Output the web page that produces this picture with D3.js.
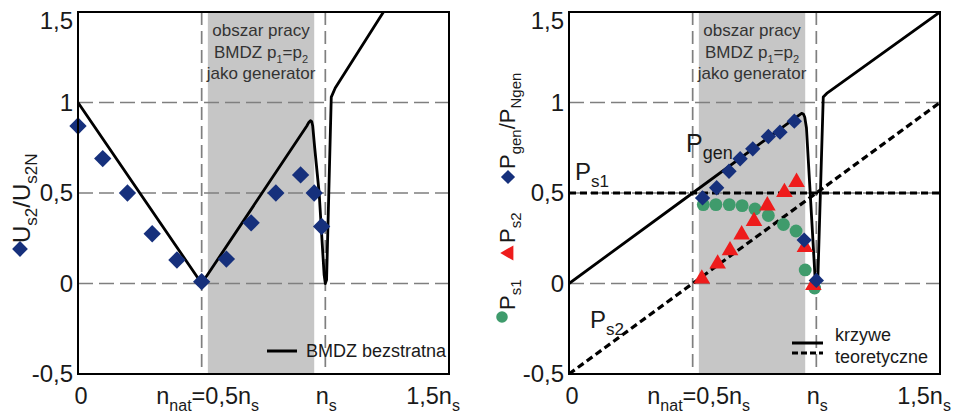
<!DOCTYPE html>
<html>
<head>
<meta charset="utf-8">
<script src="https://cdn.jsdelivr.net/npm/d3@7"></script>
<style>
body { margin: 0; background: #fff; }
svg { display: block; font-family: Arial, "Liberation Sans", sans-serif; }
</style>
</head>
<body>
<svg id="chart" width="955" height="414"></svg>
<script>
// speed axis is n / n_s, values are per-unit

// left panel: U_s2 / U_s2N, measured
var uN   = [0, 0.1, 0.2, 0.3, 0.4, 0.5, 0.6, 0.7, 0.8, 0.9, 0.955, 0.985];
var uVal = [0.87, 0.69, 0.5, 0.275, 0.13, 0.01, 0.135, 0.335, 0.5, 0.6, 0.5, 0.315];
// left panel: lossless model (BMDZ bezstratna)
var uTheoryN   = [0, 0.5, 0.925, 0.933, 0.94, 0.945, 0.949, 0.957, 0.975, 0.995, 1.0, 1.005, 1.024, 1.04, 1.235];
var uTheoryVal = [1, 0, 0.87, 0.89, 0.9, 0.895, 0.87, 0.75, 0.5, 0.05, 0, 0.02, 1.03, 1.08, 1.5];

// right panel: measured powers
var genN   = [0.54, 0.597, 0.647, 0.692, 0.743, 0.806, 0.853, 0.911, 0.951, 1.0];
var genVal = [0.473, 0.529, 0.62, 0.689, 0.744, 0.812, 0.836, 0.897, 0.24, 0.017];
var s1N    = [0.543, 0.594, 0.648, 0.70, 0.752, 0.806, 0.867, 0.918, 0.955, 0.993];
var s1Val  = [0.436, 0.436, 0.436, 0.43, 0.412, 0.376, 0.326, 0.29, 0.075, -0.025];
var s2N    = [0.537, 0.601, 0.651, 0.698, 0.748, 0.802, 0.871, 0.92, 0.954, 0.988];
var s2Val  = [0.026, 0.109, 0.182, 0.27, 0.344, 0.43, 0.504, 0.56, 0.2, -0.01];
// right panel: theoretical curves
var genTheoryN   = [0, 0.5, 0.925, 0.935, 0.942, 0.948, 0.953, 0.96, 0.995, 1.0, 1.006, 1.028, 1.042, 1.5];
var genTheoryVal = [0, 0.5, 0.925, 0.935, 0.94, 0.935, 0.92, 0.86, 0.03, 0, 0.02, 1.03, 1.05, 1.5];
var s1TheoryN   = [0, 1.5];
var s1TheoryVal = [0.5, 0.5];
var s2TheoryN   = [0, 1.5];
var s2TheoryVal = [-0.5, 1.0];

var yTicks = [-0.5, 0, 0.5, 1, 1.5];
var yTickLabels = ['-0,5', '0', '0,5', '1', '1,5'];
var xTicks = [0, 0.5, 1, 1.5];
var xTickLabels = [
  [['0']],
  [['n'], ['nat', 1], ['=0,5n'], ['s', 1]],
  [['n'], ['s', 1]],
  [['1,5n'], ['s', 1]]
];
var gridY = [0, 0.5, 1];
var gridX = [0.5, 1];
var band = [0.525, 0.955];
var bandText = [
  [['obszar pracy']],
  [['BMDZ  p'], ['1', 1], ['=p'], ['2', 1]],
  [['jako generator']]
];

var navy = '#16307c', green = '#3f9b6c', red = '#ee1c1c';

var svg = d3.select('#chart');
var y = d3.scaleLinear().domain([-0.5, 1.5]).range([374, 12]);
var xL = d3.scaleLinear().domain([0, 1.5]).range([78, 449]);
var xR = d3.scaleLinear().domain([0, 1.5]).range([569, 940]);

function rich(sel, parts, size, subSize) {
  var shift = Math.round(size * 0.28);
  parts.forEach(function(p, i) {
    var sub = !!p[1], prev = i > 0 && !!parts[i - 1][1];
    var dy = sub && !prev ? shift : (!sub && prev ? -shift : 0);
    sel.append('tspan').text(p[0])
      .attr('font-size', sub ? subSize : size)
      .attr('dy', dy);
  });
  return sel;
}

function panel(x, id) {
  var g = svg.append('g');
  var x0 = x.range()[0], x1 = x.range()[1];

  g.append('clipPath').attr('id', id)
    .append('rect').attr('x', x0).attr('y', 12).attr('width', x1 - x0).attr('height', 362);

  g.append('rect')
    .attr('x', x(band[0])).attr('y', 12)
    .attr('width', x(band[1]) - x(band[0])).attr('height', 362)
    .attr('fill', '#c6c6c6');

  g.selectAll('.gy').data(gridY).enter().append('line')
    .attr('x1', x0).attr('x2', x1)
    .attr('y1', function(d) { return y(d); }).attr('y2', function(d) { return y(d); })
    .attr('stroke', '#7f7f7f').attr('stroke-width', 1.7).attr('stroke-dasharray', '15,6');
  g.selectAll('.gx').data(gridX).enter().append('line')
    .attr('x1', function(d) { return x(d); }).attr('x2', function(d) { return x(d); })
    .attr('y1', 12).attr('y2', 374)
    .attr('stroke', '#7f7f7f').attr('stroke-width', 1.7).attr('stroke-dasharray', '13,6');

  var cx = (x(band[0]) + x(band[1])) / 2;
  bandText.forEach(function(parts, i) {
    rich(g.append('text').attr('x', cx).attr('y', 36 + i * 21.5)
      .attr('text-anchor', 'middle').attr('fill', '#333'), parts, 17, 11);
  });

  var ax = g.append('g').attr('transform', 'translate(' + (x0 - 5) + ',0)')
    .call(d3.axisLeft(y).tickValues(yTicks).tickSize(0).tickPadding(0)
      .tickFormat(function(d, i) { return yTickLabels[i]; }));
  ax.select('.domain').remove();
  ax.selectAll('text').attr('font-size', 24).attr('fill', '#1a1a1a')
    .attr('font-family', 'Arial, "Liberation Sans", sans-serif');
  // top label sits just under the frame edge
  ax.selectAll('.tick').filter(function(d) { return d === 1.5; })
    .select('text').attr('y', 9);

  var off = [3, 6, 1, -16];
  xTicks.forEach(function(v, i) {
    rich(g.append('text').attr('x', x(v) + off[i]).attr('y', 404)
      .attr('text-anchor', 'middle').attr('fill', '#1a1a1a'), xTickLabels[i], 23.5, 16);
  });

  var plot = g.append('g').attr('clip-path', 'url(#' + id + ')');
  return { g: g, plot: plot };
}

function curve(plot, x, ns, vs, dash) {
  var pts = ns.map(function(n, i) { return [n, vs[i]]; });
  plot.append('path')
    .attr('d', d3.line().x(function(d) { return x(d[0]); }).y(function(d) { return y(d[1]); })(pts))
    .attr('fill', 'none').attr('stroke', '#000')
    .attr('stroke-width', dash ? 3.2 : 2.8)
    .attr('stroke-linejoin', 'round')
    .attr('stroke-dasharray', dash ? '7,4' : null);
}

function marks(sel, x, ns, vs, type, size, color, rot) {
  sel.selectAll(null).data(ns).enter().append('path')
    .attr('d', d3.symbol().type(type).size(size))
    .attr('transform', function(d, i) {
      return 'translate(' + x(d) + ',' + y(vs[i]) + ')' + (rot ? ' rotate(' + rot + ')' : '');
    })
    .attr('fill', color);
}

function frame(g, x) {
  g.append('rect').attr('x', x.range()[0]).attr('y', 12)
    .attr('width', x.range()[1] - x.range()[0]).attr('height', 362)
    .attr('fill', 'none').attr('stroke', '#000').attr('stroke-width', 2);
}

// ---- left panel
var L = panel(xL, 'clipL');
curve(L.plot, xL, uTheoryN, uTheoryVal, false);
marks(L.g, xL, uN, uVal, d3.symbolSquare, 150, navy, 45);
frame(L.g, xL);

L.g.append('line').attr('x1', 267).attr('x2', 297).attr('y1', 351).attr('y2', 351)
  .attr('stroke', '#000').attr('stroke-width', 3);
L.g.append('text').attr('x', 306).attr('y', 357).attr('font-size', 18).attr('fill', '#1a1a1a')
  .text('BMDZ bezstratna');

L.g.append('path').attr('d', d3.symbol().type(d3.symbolSquare).size(125))
  .attr('transform', 'translate(20,249) rotate(45)').attr('fill', navy);
rich(L.g.append('text').attr('transform', 'translate(30,243) rotate(-90)').attr('fill', '#1a1a1a'),
  [['U'], ['s2', 1], ['/U'], ['s2N', 1]], 24, 17);

// ---- right panel
var R = panel(xR, 'clipR');
curve(R.plot, xR, s1TheoryN, s1TheoryVal, true);
curve(R.plot, xR, s2TheoryN, s2TheoryVal, true);
curve(R.plot, xR, genTheoryN, genTheoryVal, false);
marks(R.g, xR, s1N, s1Val, d3.symbolCircle, 130, green);
marks(R.g, xR, s2N, s2Val, d3.symbolTriangle, 120, red);
marks(R.g, xR, genN, genVal, d3.symbolSquare, 118, navy, 45);
frame(R.g, xR);

rich(R.g.append('text').attr('x', 686).attr('y', 152).attr('fill', '#1a1a1a'), [['P'], ['gen', 1]], 25, 18);
rich(R.g.append('text').attr('x', 575).attr('y', 180).attr('fill', '#1a1a1a'), [['P'], ['s1', 1]], 24, 17);
rich(R.g.append('text').attr('x', 590).attr('y', 328).attr('fill', '#1a1a1a'), [['P'], ['s2', 1]], 24, 17);

R.g.append('line').attr('x1', 792).attr('x2', 823).attr('y1', 343).attr('y2', 343)
  .attr('stroke', '#000').attr('stroke-width', 3);
R.g.append('line').attr('x1', 792).attr('x2', 823).attr('y1', 353).attr('y2', 353)
  .attr('stroke', '#000').attr('stroke-width', 3).attr('stroke-dasharray', '6,3');
R.g.append('text').attr('x', 835).attr('y', 341).attr('font-size', 18).attr('fill', '#1a1a1a').text('krzywe');
R.g.append('text').attr('x', 835).attr('y', 363).attr('font-size', 18).attr('fill', '#1a1a1a').text('teoretyczne');

// rotated y label with its three marker keys
R.g.append('path').attr('d', d3.symbol().type(d3.symbolCircle).size(105))
  .attr('transform', 'translate(502,317)').attr('fill', green);
R.g.append('path').attr('d', d3.symbol().type(d3.symbolTriangle).size(100))
  .attr('transform', 'translate(509,253) rotate(-90)').attr('fill', red);
R.g.append('path').attr('d', d3.symbol().type(d3.symbolSquare).size(100))
  .attr('transform', 'translate(508,177) rotate(45)').attr('fill', navy);
rich(R.g.append('text').attr('transform', 'translate(515,310) rotate(-90)').attr('fill', '#1a1a1a'),
  [['P'], ['s1', 1]], 22, 15);
rich(R.g.append('text').attr('transform', 'translate(515,243) rotate(-90)').attr('fill', '#1a1a1a'),
  [['P'], ['s2', 1]], 22, 15);
rich(R.g.append('text').attr('transform', 'translate(515,169) rotate(-90)').attr('fill', '#1a1a1a'),
  [['P'], ['gen', 1], ['/P'], ['Ngen', 1]], 22, 15);
</script>
</body>
</html>
